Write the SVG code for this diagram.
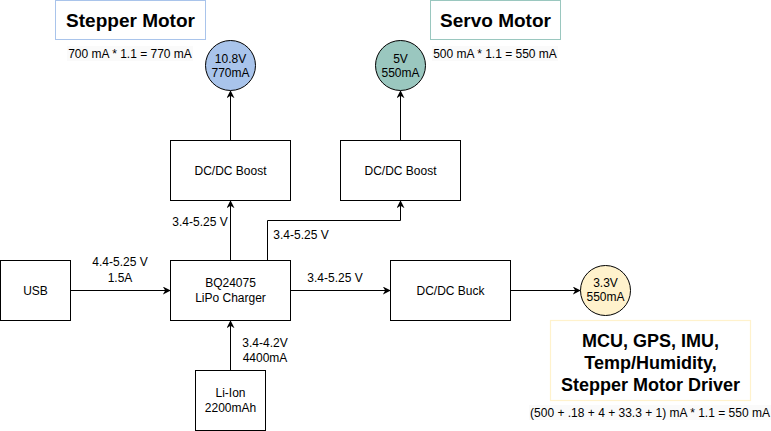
<svg xmlns="http://www.w3.org/2000/svg" width="771" height="431" viewBox="0 0 771 431">
<defs>
<marker id="arr" viewBox="0 0 10 10" refX="9" refY="5" markerWidth="8" markerHeight="8" markerUnits="userSpaceOnUse" orient="auto">
<path d="M0,0 L10,5 L0,10 L3,5 Z" fill="#000"/>
</marker>
</defs>
<style>
text{font-family:"Liberation Sans",Arial,sans-serif;font-size:12px;fill:#000;text-anchor:middle}
.box{fill:#fff;stroke:#000;stroke-width:1}
.title{font-size:19px;font-weight:bold}
.big{font-size:18px;font-weight:bold}
.edge{fill:none;stroke:#000;stroke-width:1;marker-end:url(#arr)}
.note{fill:#fafafa}
</style>
<rect width="771" height="431" fill="#fff"/>

<g id="stepper-title">
<rect x="55.5" y="0.5" width="150" height="39" fill="#fff" stroke="#A9C4EB"/>
<text class="title" x="130.5" y="27">Stepper Motor</text>
<rect class="note" x="67" y="46" width="126" height="15"/>
<text x="130" y="58">700 mA * 1.1 = 770 mA</text>
</g>
<g id="servo-title">
<rect x="430.5" y="0.5" width="130" height="39" fill="#fff" stroke="#9AC7BF"/>
<text class="title" x="495.5" y="27">Servo Motor</text>
<rect class="note" x="432" y="46" width="126" height="15"/>
<text x="495" y="58">500 mA * 1.1 = 550 mA</text>
</g>

<g id="v108">
<circle cx="230.5" cy="65.5" r="25" fill="#A9C4EB" stroke="#000"/>
<text x="230.5" y="63">10.8V</text>
<text x="230.5" y="77">770mA</text>
</g>
<g id="v5">
<circle cx="400.5" cy="65.5" r="25" fill="#9AC7BF" stroke="#000"/>
<text x="400.5" y="63">5V</text>
<text x="400.5" y="77">550mA</text>
</g>

<g id="boost1">
<rect class="box" x="170.5" y="140.5" width="120" height="60"/>
<text x="230.5" y="175">DC/DC Boost</text>
</g>
<g id="boost2">
<rect class="box" x="340.5" y="140.5" width="120" height="60"/>
<text x="400.5" y="175">DC/DC Boost</text>
</g>

<g id="usb">
<rect class="box" x="0.5" y="260.5" width="70" height="60"/>
<text x="35.5" y="295">USB</text>
</g>
<g id="charger">
<rect class="box" x="170.5" y="260.5" width="120" height="60"/>
<text x="230.5" y="287">BQ24075</text>
<text x="230.5" y="302">LiPo Charger</text>
</g>
<g id="buck">
<rect class="box" x="390.5" y="260.5" width="120" height="60"/>
<text x="450.5" y="295">DC/DC Buck</text>
</g>
<g id="liion">
<rect class="box" x="195.5" y="370.5" width="70" height="60"/>
<text x="230.5" y="397">Li-Ion</text>
<text x="230.5" y="412">2200mAh</text>
</g>

<g id="v33">
<circle cx="605.5" cy="290.5" r="25" fill="#FFF2CC" stroke="#000"/>
<text x="605.5" y="287">3.3V</text>
<text x="605.5" y="301">550mA</text>
</g>
<g id="mcu-group">
<rect x="550.5" y="320.5" width="200" height="80" fill="#fff" stroke="#FFF2CC" stroke-width="1.2"/>
<text class="big" x="650.5" y="347">MCU, GPS, IMU,</text>
<text class="big" x="650.5" y="369">Temp/Humidity,</text>
<text class="big" x="650.5" y="391">Stepper Motor Driver</text>
<rect class="note" x="529" y="405" width="242" height="15"/>
<text x="650" y="417">(500 + .18 + 4 + 33.3 + 1) mA * 1.1 = 550 mA</text>
</g>

<g id="connectors">
<path class="edge" d="M70.5,290.5 H170"/>
<path class="edge" d="M230.5,140.5 V91"/>
<path class="edge" d="M400.5,140.5 V91"/>
<path class="edge" d="M230.5,260.5 V201"/>
<path class="edge" d="M267.5,260.5 V220.5 H400.5 V201"/>
<path class="edge" d="M290.5,290.5 H390"/>
<path class="edge" d="M510.5,290.5 H580"/>
<path class="edge" d="M230.5,370.5 V321"/>
<text x="120" y="266">4.4-5.25 V</text>
<text x="120" y="282">1.5A</text>
<text x="200" y="226">3.4-5.25 V</text>
<text x="301" y="239">3.4-5.25 V</text>
<text x="335" y="282">3.4-5.25 V</text>
<text x="265" y="347">3.4-4.2V</text>
<text x="265" y="362">4400mA</text>
</g>
</svg>
